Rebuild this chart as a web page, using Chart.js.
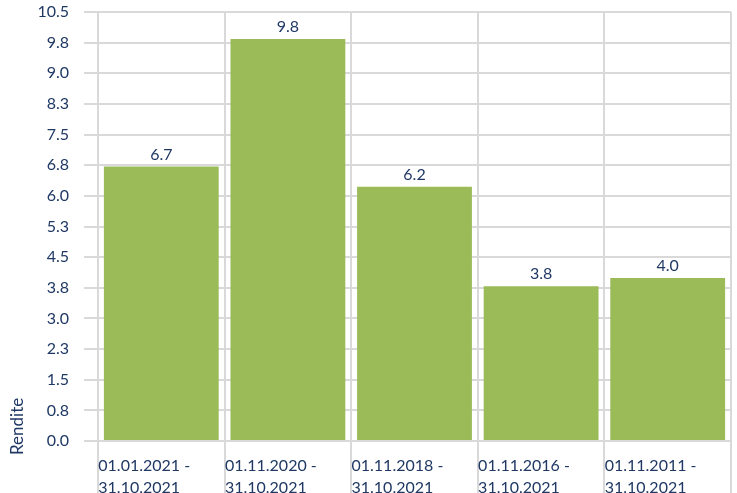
<!DOCTYPE html>
<html>
<head>
<meta charset="utf-8">
<script src="https://cdn.jsdelivr.net/npm/chart.js@4"></script>
<style>
  html, body { margin: 0; padding: 0; background: #fff; }
  #wrap { width: 737px; height: 493px; }
</style>
</head>
<body>
<div id="wrap"><canvas id="myChart"></canvas></div>
<script>
const zeitraeume = [
  ['01.01.2021 -', '31.10.2021'],
  ['01.11.2020 -', '31.10.2021'],
  ['01.11.2018 -', '31.10.2021'],
  ['01.11.2016 -', '31.10.2021'],
  ['01.11.2011 -', '31.10.2021']
];
const rendite = [6.72, 9.84, 6.22, 3.79, 3.99];
const yMin = 0;
const yMax = 10.5;
const yStep = 0.75;
const yTitel = 'Rendite';

const navy = '#1F3864';
const gridColor = '#D9D9D9';
const fontFam = 'Lato, "Open Sans", sans-serif';

// Werte ueber den Balken + Achsentitel
const wertLabels = {
  id: 'wertLabels',
  afterDatasetsDraw(chart) {
    const ctx = chart.ctx;
    const meta = chart.getDatasetMeta(0);
    ctx.save();
    ctx.fillStyle = navy;
    ctx.font = '16px ' + fontFam;
    ctx.textAlign = 'center';
    ctx.textBaseline = 'bottom';
    meta.data.forEach((bar, i) => {
      ctx.fillText(rendite[i].toFixed(1), bar.x, bar.y - 4);
    });
    // y-Titel, gedreht, unten beginnend
    const y = chart.scales.y;
    ctx.translate(18, y.bottom + 14);
    ctx.rotate(-Math.PI / 2);
    ctx.font = '17px ' + fontFam;
    ctx.textAlign = 'left';
    ctx.textBaseline = 'middle';
    ctx.fillText(yTitel, 0, 0);
    ctx.restore();
  }
};

const ctx = document.getElementById('myChart');

new Chart(ctx, {
  type: 'bar',
  data: {
    labels: zeitraeume,
    datasets: [{
      label: yTitel,
      data: rendite,
      backgroundColor: '#9BBB59',
      borderWidth: 0,
      barPercentage: 0.907,
      categoryPercentage: 1
    }]
  },
  options: {
    responsive: true,
    maintainAspectRatio: false,
    animation: false,
    layout: { padding: { top: 12, right: 6, left: 0, bottom: 0 } },
    plugins: {
      legend: { display: false },
      tooltip: { enabled: false }
    },
    scales: {
      x: {
        grid: { color: gridColor, lineWidth: 2, tickLength: 52, offset: true },
        border: { display: false },
        afterFit(scale) { scale.height = 52; scale.paddingLeft = 0; scale.paddingRight = 0; },
        ticks: {
          color: navy,
          font: { family: fontFam, size: 16, lineHeight: 1.35 },
          align: 'start',
          labelOffset: -63,
          padding: -38,
          maxRotation: 0,
          autoSkip: false
        }
      },
      y: {
        min: yMin,
        max: yMax,
        afterFit(scale) { scale.width = 98; scale.paddingTop = 0; scale.paddingBottom = 0; },
        grid: { color: gridColor, lineWidth: 2, tickLength: 14 },
        border: { display: false },
        ticks: {
          stepSize: yStep,
          color: navy,
          font: { family: fontFam, size: 16 },
          padding: 15,
          callback: v => (v + 1e-9).toFixed(1)
        }
      }
    }
  },
  plugins: [wertLabels]
});
</script>
</body>
</html>
